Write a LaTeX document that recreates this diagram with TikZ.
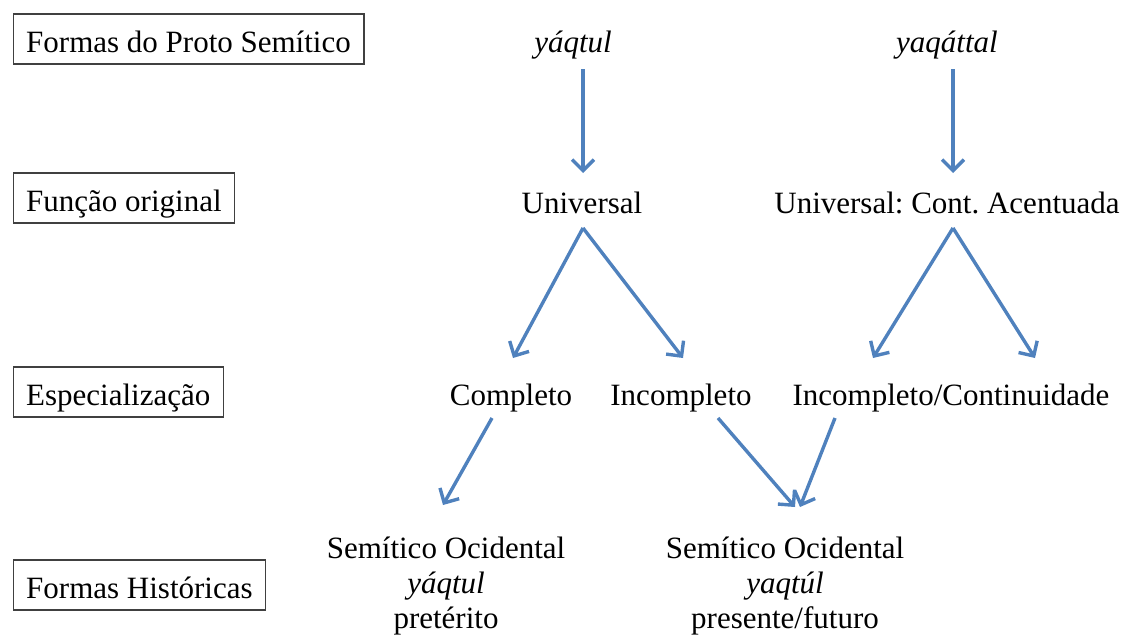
\documentclass[tikz,border=0pt]{standalone}
\usepackage{fontspec}
\setmainfont{Liberation Serif}
\usetikzlibrary{arrows.meta}
\definecolor{arrowblue}{RGB}{79,129,189}
\frenchspacing
\begin{document}
\begin{tikzpicture}[x=1pt,y=-1pt,
  every node/.style={font=\fontsize{31}{35}\selectfont, inner sep=0pt},
  rowbox/.style={draw=black!75, line width=1.4pt, anchor=base west,
    text height=38pt, text depth=12pt, inner xsep=13pt, inner ysep=0pt},
  lbl/.style={anchor=base},
  block/.style={anchor=north, align=center},
  arr/.style={draw=arrowblue, line width=3.4pt,
    -{Straight Barb[length=11pt,width=22pt,line width=3.4pt]}}]
\useasboundingbox (0,0) rectangle (1124,635);

% row headings
\node[rowbox] (h1) at (12.5,52)  {Formas do Proto Semítico};
\node[rowbox] (h2) at (12.5,211) {Função original};
\node[rowbox] (h3) at (12.5,405) {Especialização};
\node[rowbox] (h4) at (12.5,598) {Formas Históricas};

% proto-semitic forms
\node[lbl] (yq)  at (573,52) {\textit{yáqtul}};
\node[lbl] (yqt) at (947,52) {\textit{yaqáttal}};

% original function
\node[lbl] (uni) at (582,213) {Universal};
\node[lbl] (uca) at (947,213) {Universal: Cont. Acentuada};

% specialisation
\node[lbl] (comp) at (511,405) {Completo};
\node[lbl] (inc)  at (681,405) {Incompleto};
\node[lbl] (icc)  at (951,405) {Incompleto/Continuidade};

% historical forms
\node[block] (so1) at (446,537) {Semítico Ocidental\\\textit{yáqtul}\\pretérito};
\node[block] (so2) at (785,537) {Semítico Ocidental\\\textit{yaqtúl}\\presente/futuro};

% connectors
\draw[arr] ([shift={(10,17)}]yq.base)   -- ([shift={(1,-40)}]uni.base);
\draw[arr] ([shift={(6,17)}]yqt.base)   -- ([shift={(6,-40)}]uca.base);
\draw[arr] ([shift={(1,15)}]uni.base)   -- ([shift={(2,-47)}]comp.base);
\draw[arr] ([shift={(1,15)}]uni.base)   -- ([shift={(2,-47)}]inc.base);
\draw[arr] ([shift={(6,15)}]uca.base)   -- ([shift={(-78,-47)}]icc.base);
\draw[arr] ([shift={(6,15)}]uca.base)   -- ([shift={(84,-47)}]icc.base);
\draw[arr] ([shift={(-19,13)}]comp.base) -- ([shift={(-3,-32)}]so1.north);
\draw[arr] ([shift={(37,13)}]inc.base)  -- ([shift={(10,-30)}]so2.north);
\draw[arr] ([shift={(-116,13)}]icc.base) -- ([shift={(15,-30)}]so2.north);
\end{tikzpicture}
\end{document}
